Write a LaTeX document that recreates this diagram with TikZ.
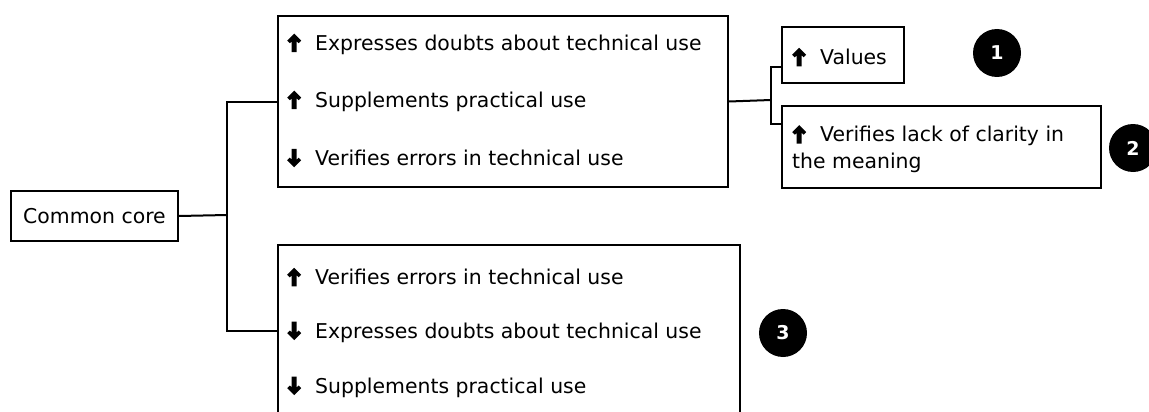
\documentclass[tikz,border=0pt]{standalone}
\usepackage{fontspec}
\setmainfont{DejaVu Sans}
\usetikzlibrary{positioning}
\newcommand{\upar}{\tikz[baseline=2pt, x=1pt, y=1pt]\fill[black] (0,18.5) -- (7,11.5) -- (4.4,8.9) -- (2.5,10.8) -- (2.5,0) -- (-2.5,0) -- (-2.5,10.8) -- (-4.4,8.9) -- (-7,11.5) -- cycle;\hspace{14pt}}
\newcommand{\dnar}{\tikz[baseline=2pt, x=1pt, y=1pt]\fill[black] (0,0) -- (7,7) -- (4.4,9.6) -- (2.5,7.7) -- (2.5,18.5) -- (-2.5,18.5) -- (-2.5,7.7) -- (-4.4,9.6) -- (-7,7) -- cycle;\hspace{14pt}}
\tikzset{
    box/.style={draw, rectangle, line width=2pt, inner sep=0pt, anchor=north west},
    row/.style={anchor=west, inner sep=0pt, align=left, font=\fontsize{20.4}{27}\selectfont},
    badge/.style={circle, fill=black, minimum size=48pt, inner sep=0pt, text=white, font=\bfseries\fontsize{19}{20}\selectfont},
    link/.style={line width=2pt}
}

\begin{document}
\begin{tikzpicture}[x=1pt, y=-1pt]
    \useasboundingbox (0,0) rectangle (1149,412);

    \node (core) [box, minimum width=167pt, minimum height=50pt, font=\fontsize{20.4}{24}\selectfont] at (10,190) {Common core};

    % first branch
    \node (pos) [box, minimum width=450pt, minimum height=171pt] at (277,15) {};
    \node (pos1) [row] at (287,44) {\upar Expresses doubts about technical use};
    \node (pos2) [row] at (287,101) {\upar Supplements practical use};
    \node (pos3) [row] at (287,158) {\dnar Verifies errors in technical use};

    \node (values) [box, minimum width=122pt, minimum height=56pt] at (781,26) {};
    \node (values1) [row] at (792,57) {\upar Values};
    \node (clarity) [box, minimum width=319pt, minimum height=82pt] at (781,105) {};
    \node (clarity1) [row] at (792,149) {\upar Verifies lack of clarity in\\the meaning};

    % second branch
    \node (neg) [box, minimum width=462pt, minimum height=172pt] at (277,244) {};
    \node (neg1) [row] at (287,277) {\upar Verifies errors in technical use};
    \node (neg2) [row] at (287,332) {\dnar Expresses doubts about technical use};
    \node (neg3) [row] at (287,387) {\dnar Supplements practical use};

    \node (b1) [badge] at (997,53) {1};
    \node (b2) [badge] at (1133,148) {2};
    \node (b3) [badge] at (783,333) {3};

    \coordinate (fork) at (227,215);
    \coordinate (split) at (771,100);
    \coordinate (tickA) at (781,67);
    \coordinate (tickB) at (781,124);

    \draw[link] (core.east) -- (fork);
    \draw[link] (pos.west) -| (fork) |- (neg.west);
    \draw[link] (pos.east) -- (split);
    \draw[link] (tickA) -| (split) |- (tickB);
\end{tikzpicture}
\end{document}
